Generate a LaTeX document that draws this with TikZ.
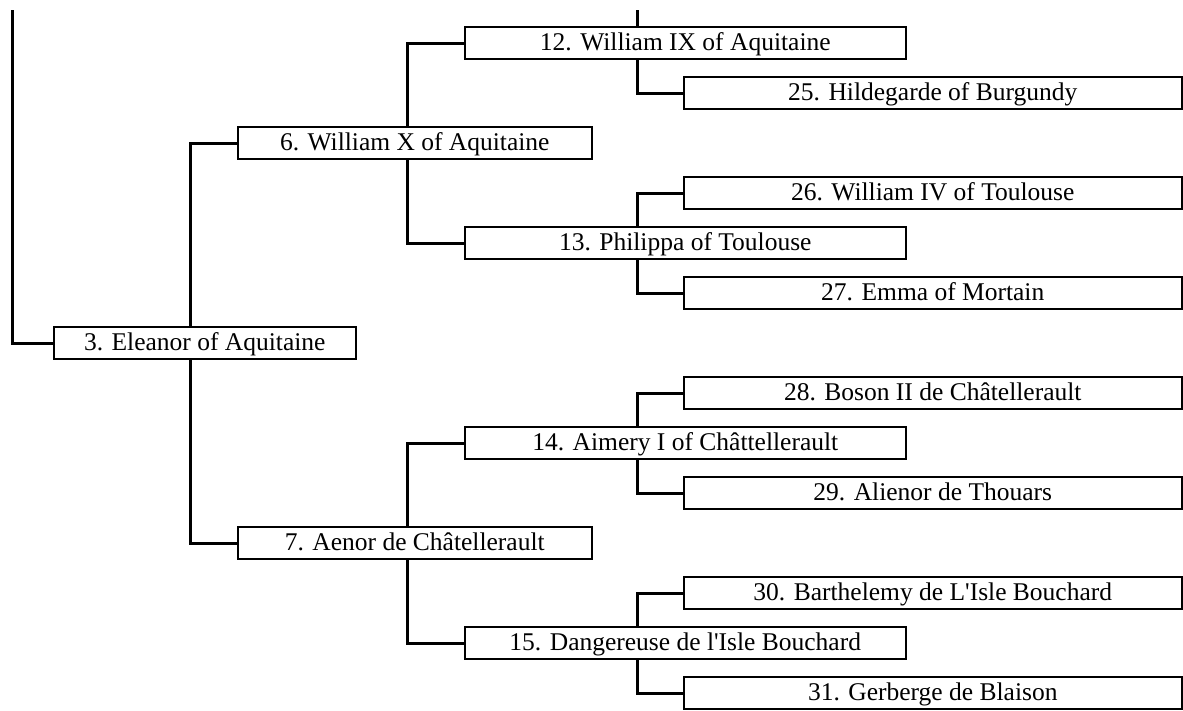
\documentclass[tikz,border=0pt]{standalone}
\usepackage{fontspec}
\setmainfont{Liberation Serif}[Ligatures=TeXOff]
\tikzset{x=1pt, y=-1pt,
    person/.style={draw, line width=1.5pt, anchor=west, inner sep=0pt,
        minimum height=32pt, text height=18pt, text depth=4pt,
        font=\fontsize{25.5}{30}\selectfont},
    gen1/.style={person, minimum width=302pt},
    gen2/.style={person, minimum width=354pt},
    gen3/.style={person, minimum width=441pt},
    gen4/.style={person, minimum width=498pt},
    link/.style={line width=3pt},
    }

\begin{document}
\begin{tikzpicture}
\useasboundingbox (0,0) rectangle (1183,710);
% boxes
\node[gen1] (p3) at (53,343) {3. Eleanor of Aquitaine};
\node[gen2] (p6) at (237,143) {6. William X of Aquitaine};
\node[gen2] (p7) at (237,543) {7. Aenor de Châtellerault};
\node[gen3] (p12) at (464,43) {12. William IX of Aquitaine};
\node[gen3] (p13) at (464,243) {13. Philippa of Toulouse};
\node[gen3] (p14) at (464,443) {14. Aimery I of Châttellerault};
\node[gen3] (p15) at (464,643) {15. Dangereuse de l'Isle Bouchard};
\node[gen4] (p25) at (683,93) {25. Hildegarde of Burgundy};
\node[gen4] (p26) at (683,193) {26. William IV of Toulouse};
\node[gen4] (p27) at (683,293) {27. Emma of Mortain};
\node[gen4] (p28) at (683,393) {28. Boson II de Châtellerault};
\node[gen4] (p29) at (683,493) {29. Alienor de Thouars};
\node[gen4] (p30) at (683,593) {30. Barthelemy de L'Isle Bouchard};
\node[gen4] (p31) at (683,693) {31. Gerberge de Blaison};
% fork points
\coordinate (top0) at (12,10);
\coordinate (top12) at (637,10);
\coordinate (f3) at (190,0);
\coordinate (f6) at (407,0);
\coordinate (f7) at (407,0);
\coordinate (f12) at (637,0);
% links
\draw[link] (top0) |- (p3.west);
\draw[link] (top12) -- (top12 |- p12.north);
\draw[link] (p6.west) -| (f3 |- p3.north);
\draw[link] (p7.west) -| (f3 |- p3.south);
\draw[link] (p12.west) -| (f6 |- p6.north);
\draw[link] (p13.west) -| (f6 |- p6.south);
\draw[link] (p14.west) -| (f7 |- p7.north);
\draw[link] (p15.west) -| (f7 |- p7.south);
\draw[link] (p25.west) -| (f12 |- p12.south);
\draw[link] (p26.west) -| (f12 |- p13.north);
\draw[link] (p27.west) -| (f12 |- p13.south);
\draw[link] (p28.west) -| (f12 |- p14.north);
\draw[link] (p29.west) -| (f12 |- p14.south);
\draw[link] (p30.west) -| (f12 |- p15.north);
\draw[link] (p31.west) -| (f12 |- p15.south);
\end{tikzpicture}
\end{document}
